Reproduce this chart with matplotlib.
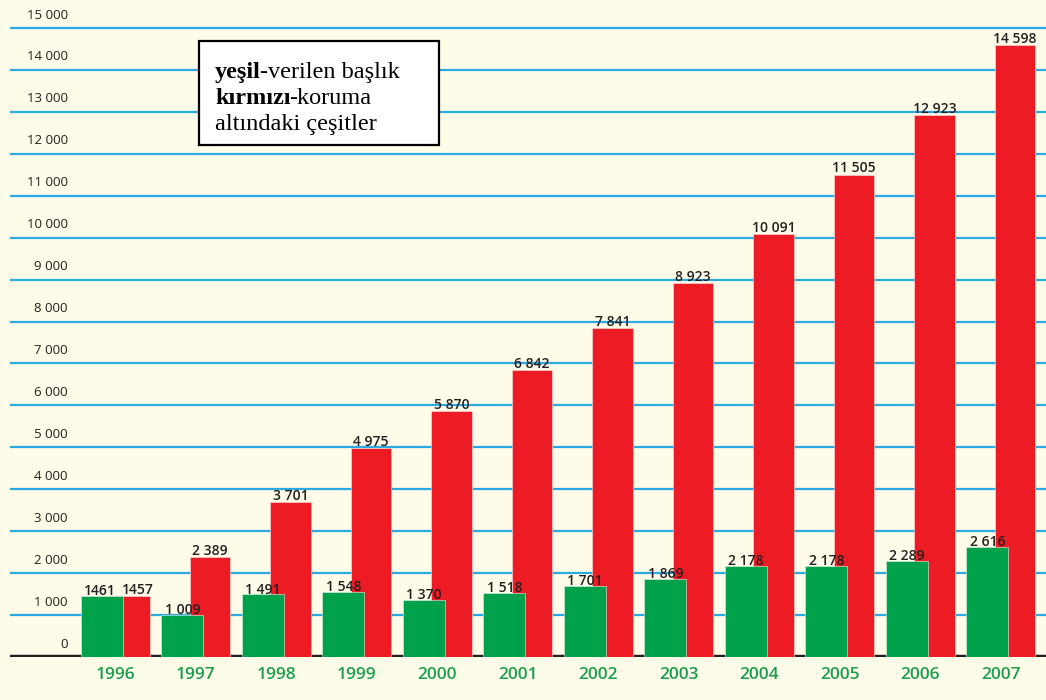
import numpy as np
import matplotlib
matplotlib.use("Agg")
import matplotlib.pyplot as plt

# data
years = ["1996", "1997", "1998", "1999", "2000", "2001",
         "2002", "2003", "2004", "2005", "2006", "2007"]
verilen = [1461, 1009, 1491, 1548, 1370, 1518, 1701, 1869, 2178, 2178, 2289, 2616]
koruma = [1457, 2389, 3701, 4975, 5870, 6842, 7841, 8923, 10091, 11505, 12923, 14598]
yticks = [0, 1000, 2000, 3000, 4000, 5000, 6000, 7000, 8000, 9000,
          10000, 11000, 12000, 13000, 14000, 15000]

bg = "#fefbe9"
green = "#00a14b"
red = "#ed1c24"
grid_blue = "#29abe2"


def fmt(v, plain=False):
    if plain:
        return str(v)
    return f"{v:,}".replace(",", " ")


fig = plt.figure(figsize=(10.46, 7.0), dpi=100)
fig.patch.set_facecolor(bg)
ax = fig.add_axes([10 / 1046, 43 / 700, 1036 / 1046, 657 / 700])
ax.set_facecolor(bg)
for s in ax.spines.values():
    s.set_visible(False)
ax.set_xticks([])
ax.set_yticks([])
ax.set_xlim(-1.31, 11.56)
ax.set_ylim(0, 15668)

x = np.arange(len(years))

# grid lines + tick labels (labels sit above the line)
for v in yticks[1:]:
    ax.axhline(v, color=grid_blue, lw=1.6, zorder=1)
for v in yticks:
    ax.text(-0.59, v + 310, fmt(v), ha="right", va="center",
            fontsize=9.5, color="#231f20", family="Open Sans", zorder=2)

# bottom axis line
ax.axhline(0, color="#231f20", lw=3.2, zorder=2)

# bars: red behind, green in front
ax.bar(x + 0.174, koruma, width=0.50, color=red, zorder=3,
       edgecolor="#fbe3e3", linewidth=0.4)
ax.bar(x - 0.168, verilen, width=0.52, color=green, zorder=4,
       edgecolor="#e3f3e6", linewidth=0.4)

# value labels
for i in range(len(years)):
    plain = i == 0
    gx = x[i] - 0.168
    rx = x[i] + 0.174
    if i == 0:
        gx -= 0.03
        rx += 0.10
    ax.annotate(fmt(verilen[i], plain), (gx, verilen[i]), xytext=(0, -1.5),
                textcoords="offset points", ha="center", va="bottom",
                fontsize=10, fontweight="semibold", color="#231f20",
                family="Open Sans", zorder=6)
    ax.annotate(fmt(koruma[i], plain), (rx, koruma[i]), xytext=(0, -0.5),
                textcoords="offset points", ha="center", va="bottom",
                fontsize=10, fontweight="semibold", color="#231f20",
                family="Open Sans", zorder=6)

# year labels under the axis
for i, yr in enumerate(years):
    ax.text(x[i], -420, yr, ha="center", va="center", fontsize=12.5,
            fontweight="semibold", color="#1a9f4f", family="Open Sans",
            clip_on=False)

# legend box
box = plt.Rectangle((199 / 1046, 1 - 145 / 700), 240 / 1046, 104 / 700,
                    transform=fig.transFigure, facecolor="white",
                    edgecolor="black", lw=1.6, zorder=10)
fig.patches.append(box)

lines = [("yeşil", "-verilen başlık"),
         ("kırmızı", "-koruma"),
         ("", "altındaki çeşitler")]
fig.canvas.draw()
renderer = fig.canvas.get_renderer()
x0 = 215
for k, (b, n) in enumerate(lines):
    yy = 1 - (78 + k * 26) / 700
    xx = x0 / 1046
    if b:
        tb = fig.text(xx, yy, b, fontsize=17.5, fontweight="bold",
                      family="Liberation Serif", va="baseline", zorder=11)
        bb = tb.get_window_extent(renderer)
        xx = (bb.x1 - 1) / fig.bbox.width
    fig.text(xx, yy, n, fontsize=17.5, family="Liberation Serif",
             va="baseline", zorder=11)

fig.savefig("out.png", dpi=100, facecolor=bg)
